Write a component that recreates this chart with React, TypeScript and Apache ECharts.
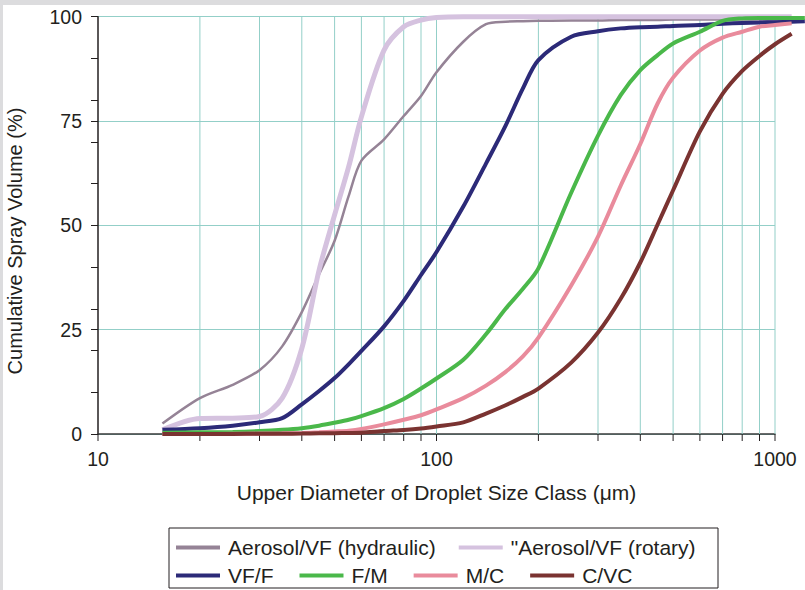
import React, { useEffect, useRef } from "react";
import * as echarts from "echarts";

// Droplet size classes (µm)
const sizes = [15.5, 20, 25, 30, 35, 40, 45, 50, 55, 60, 70, 80, 90, 100, 120, 140, 160, 180, 200, 250, 300, 350, 400, 450, 500, 600, 700, 800, 900, 1000, 1120, 1225];

const seriesNames = ["Aerosol/VF (hydraulic)", "\"Aerosol/VF (rotary)", "VF/F", "F/M", "M/C", "C/VC"];

const hydraulic = [2.5, 8.6, 11.8, 15.3, 21, 29.2, 38.3, 46.3, 57, 65.5, 70.6, 76.2, 81, 86.7, 94, 98.2, 98.8, 98.9, 99.0, 99.1, 99.1, 99.2, 99.2, 99.2, 99.3, 99.3, 99.3, 99.3, 99.3, 99.3, 99.4];
const rotary = [1.0, 3.7, 3.8, 4.2, 8.6, 20.5, 39.3, 52.5, 64, 76, 92, 97.6, 99.2, 99.8, 100, 100, 100, 100, 100, 100, 100, 100, 100, 100, 100, 100, 100, 100, 100, 100, 100];
const vff = [1.0, 1.4, 2.0, 2.8, 3.8, 7.1, 10.3, 13.4, 16.7, 19.9, 25.8, 31.9, 38.1, 43.6, 54.5, 64.8, 73.9, 82.8, 89.6, 95.2, 96.5, 97.2, 97.5, 97.6, 97.8, 98.0, 98.3, 98.5, 98.6, 98.7, 98.8, 98.9];
const fm = [0.3, 0.4, 0.5, 0.7, 1.0, 1.4, 2.0, 2.7, 3.4, 4.3, 6.2, 8.4, 10.9, 13.3, 17.8, 23.9, 30, 34.8, 39.7, 57.8, 71.5, 81.2, 87.2, 90.8, 93.6, 96.4, 99.0, 99.6, 99.7, 99.7, 99.7, 99.7];
const mc = [0, 0, 0.05, 0.1, 0.15, 0.25, 0.4, 0.6, 0.8, 1.2, 2.3, 3.4, 4.5, 5.9, 8.6, 11.6, 14.9, 18.6, 23.1, 35.6, 47.3, 59.5, 69.5, 79.2, 85.4, 91.9, 95, 96.4, 97.6, 98, 98.4];
const cvc = [0, 0, 0.02, 0.05, 0.07, 0.1, 0.15, 0.2, 0.25, 0.3, 0.7, 0.95, 1.3, 1.8, 2.8, 4.9, 6.9, 8.9, 10.9, 17.1, 24.3, 32.4, 41.1, 50.2, 58.4, 72.5, 81.5, 87, 90.6, 93.4, 95.9];

const seriesValues = [hydraulic, rotary, vff, fm, mc, cvc];
const seriesColors = ["#958396", "#d5c2df", "#2c2a78", "#4ab84a", "#e98b9c", "#7a3331"];
const seriesWidths = [2.5, 5, 4, 4, 4, 4];

const xTickLabels = [10, 100, 1000];
const xTickValues = [10, 20, 30, 40, 50, 60, 70, 80, 90, 100, 200, 300, 400, 500, 600, 700, 800, 900, 1000];
const yLabelValues = [0, 25, 50, 75, 100];

const FONT = "'Liberation Sans', Arial, Helvetica, sans-serif";
const INK = "#231f20";
const GRID = "#93cfc8";

const lg = (v: number) => Math.log10(v);

// layout (chart-local px)
const G_LEFT = 95;
const G_WIDTH = 677; // 10 .. 1000
const CHART_W = 802;
const G_TOP = 11.7;
const G_BOTTOM = 156;
// the data grid runs past 1000 to the right edge of the chart
const DATA_MAX = 1 + (2 * (CHART_W - G_LEFT)) / G_WIDTH;

export default function App() {
  const ref = useRef<HTMLDivElement>(null);

  useEffect(() => {
    if (!ref.current) return;
    const chart = echarts.init(ref.current, undefined, { renderer: "svg" });

    const lineSeries = seriesNames.map((name, i) => ({
      name,
      type: "line",
      xAxisIndex: 1,
      yAxisIndex: 2,
      data: seriesValues[i].map((v, j) => [lg(sizes[j]), v]),
      color: seriesColors[i],
      lineStyle: { color: seriesColors[i], width: seriesWidths[i] },
      showSymbol: false,
      symbol: "none",
      smooth: 0.3,
      clip: false,
      z: 3 + i,
    }));

    const option: any = {
      animation: false,
      backgroundColor: "#ffffff",
      grid: [
        { left: G_LEFT, top: G_TOP, width: G_WIDTH, bottom: G_BOTTOM, containLabel: false },
        { left: G_LEFT, top: G_TOP, width: CHART_W - G_LEFT, bottom: G_BOTTOM, containLabel: false },
      ],
      xAxis: [
        {
          type: "value",
          gridIndex: 0,
          min: 1,
          max: 3,
          interval: 1,
          axisLine: { show: true, lineStyle: { color: "#3a3a3a", width: 1.5 } },
          axisTick: { show: false },
          splitLine: { show: false },
          axisLabel: {
            show: true,
            margin: 15,
            fontSize: 19.5,
            fontFamily: FONT,
            color: INK,
            formatter: (v: number) => {
              const d = Math.round(Math.pow(10, v));
              return xTickLabels.includes(d) ? String(d) : "";
            },
          },
          name: "Upper Diameter of Droplet Size Class (\u03bcm)",
          nameLocation: "middle",
          nameGap: 48,
          nameTextStyle: { fontSize: 21, fontFamily: FONT, color: INK },
        },
        {
          type: "value",
          gridIndex: 1,
          min: 1,
          max: DATA_MAX,
          show: false,
        },
      ],
      yAxis: [
        {
          type: "value",
          gridIndex: 0,
          min: 0,
          max: 100,
          interval: 25,
          position: "left",
          axisLine: { show: true, lineStyle: { color: INK, width: 1.5 } },
          axisTick: { show: true, length: 7, lineStyle: { color: INK, width: 1 } },
          splitLine: { show: true, lineStyle: { color: GRID, width: 1 } },
          axisLabel: {
            margin: 16,
            fontSize: 19.5,
            fontFamily: FONT,
            color: INK,
            formatter: (v: number) => (yLabelValues.includes(v) ? String(v) : ""),
          },
        },
        {
          type: "value",
          gridIndex: 0,
          min: 0,
          max: 100,
          interval: 10,
          position: "left",
          offset: 0,
          axisLine: { show: false },
          axisTick: { show: true, length: 7, lineStyle: { color: INK, width: 1 } },
          splitLine: { show: false },
          axisLabel: { show: false },
        },
        {
          type: "value",
          gridIndex: 1,
          min: 0,
          max: 100,
          show: false,
        },
      ],
      legend: [
        {
          data: seriesNames.slice(0, 2),
          left: 173,
          top: 532,
          padding: 0,
          icon: "rect",
          itemWidth: 44,
          itemHeight: 4,
          itemGap: 23,
          selectedMode: false,
          textStyle: { fontSize: 21, fontFamily: FONT, color: INK, padding: [0, 0, 0, 3] },
        },
        {
          data: seriesNames.slice(2),
          left: 173,
          top: 560,
          padding: 0,
          icon: "rect",
          itemWidth: 44,
          itemHeight: 4,
          itemGap: 26,
          selectedMode: false,
          textStyle: { fontSize: 21, fontFamily: FONT, color: INK, padding: [0, 0, 0, 3] },
        },
      ],
      graphic: [
        {
          type: "rect",
          shape: { x: 166, y: 523, width: 549, height: 60 },
          style: { fill: "none", stroke: INK, lineWidth: 1 },
          silent: true,
        },
        {
          type: "text",
          x: 12,
          y: 236,
          rotation: Math.PI / 2,
          style: {
            text: "Cumulative Spray Volume (%)",
            fontSize: 20,
            fontFamily: FONT,
            fill: INK,
            align: "center",
            verticalAlign: "middle",
          },
          silent: true,
        },
      ],
      series: [
        {
          type: "custom",
          xAxisIndex: 0,
          yAxisIndex: 0,
          silent: true,
          z: 1,
          clip: false,
          data: xTickValues.map((v) => [lg(v), 0]),
          renderItem: (_params: any, api: any) => {
            const x = api.value(0);
            const b = api.coord([x, 0]);
            const t = api.coord([x, 100]);
            const children: any[] = [];
            if (x > 1.0001) {
              children.push({
                type: "line",
                shape: { x1: b[0], y1: b[1], x2: t[0], y2: t[1] },
                style: { stroke: GRID, lineWidth: 1 },
              });
            }
            children.push({
              type: "line",
              shape: { x1: b[0], y1: b[1], x2: b[0], y2: b[1] + 7 },
              style: { stroke: INK, lineWidth: 1 },
            });
            return { type: "group", children };
          },
        },
        ...lineSeries,
      ],
    };

    chart.setOption(option);
    return () => chart.dispose();
  }, []);

  return (
    <div style={{ position: "fixed", left: 0, top: 0, width: 805, height: 590, background: "#dcdcde" }}>
      <div
        ref={ref}
        style={{ position: "absolute", left: 3, top: 5, width: 802, height: 585, background: "#ffffff" }}
      />
    </div>
  );
}
